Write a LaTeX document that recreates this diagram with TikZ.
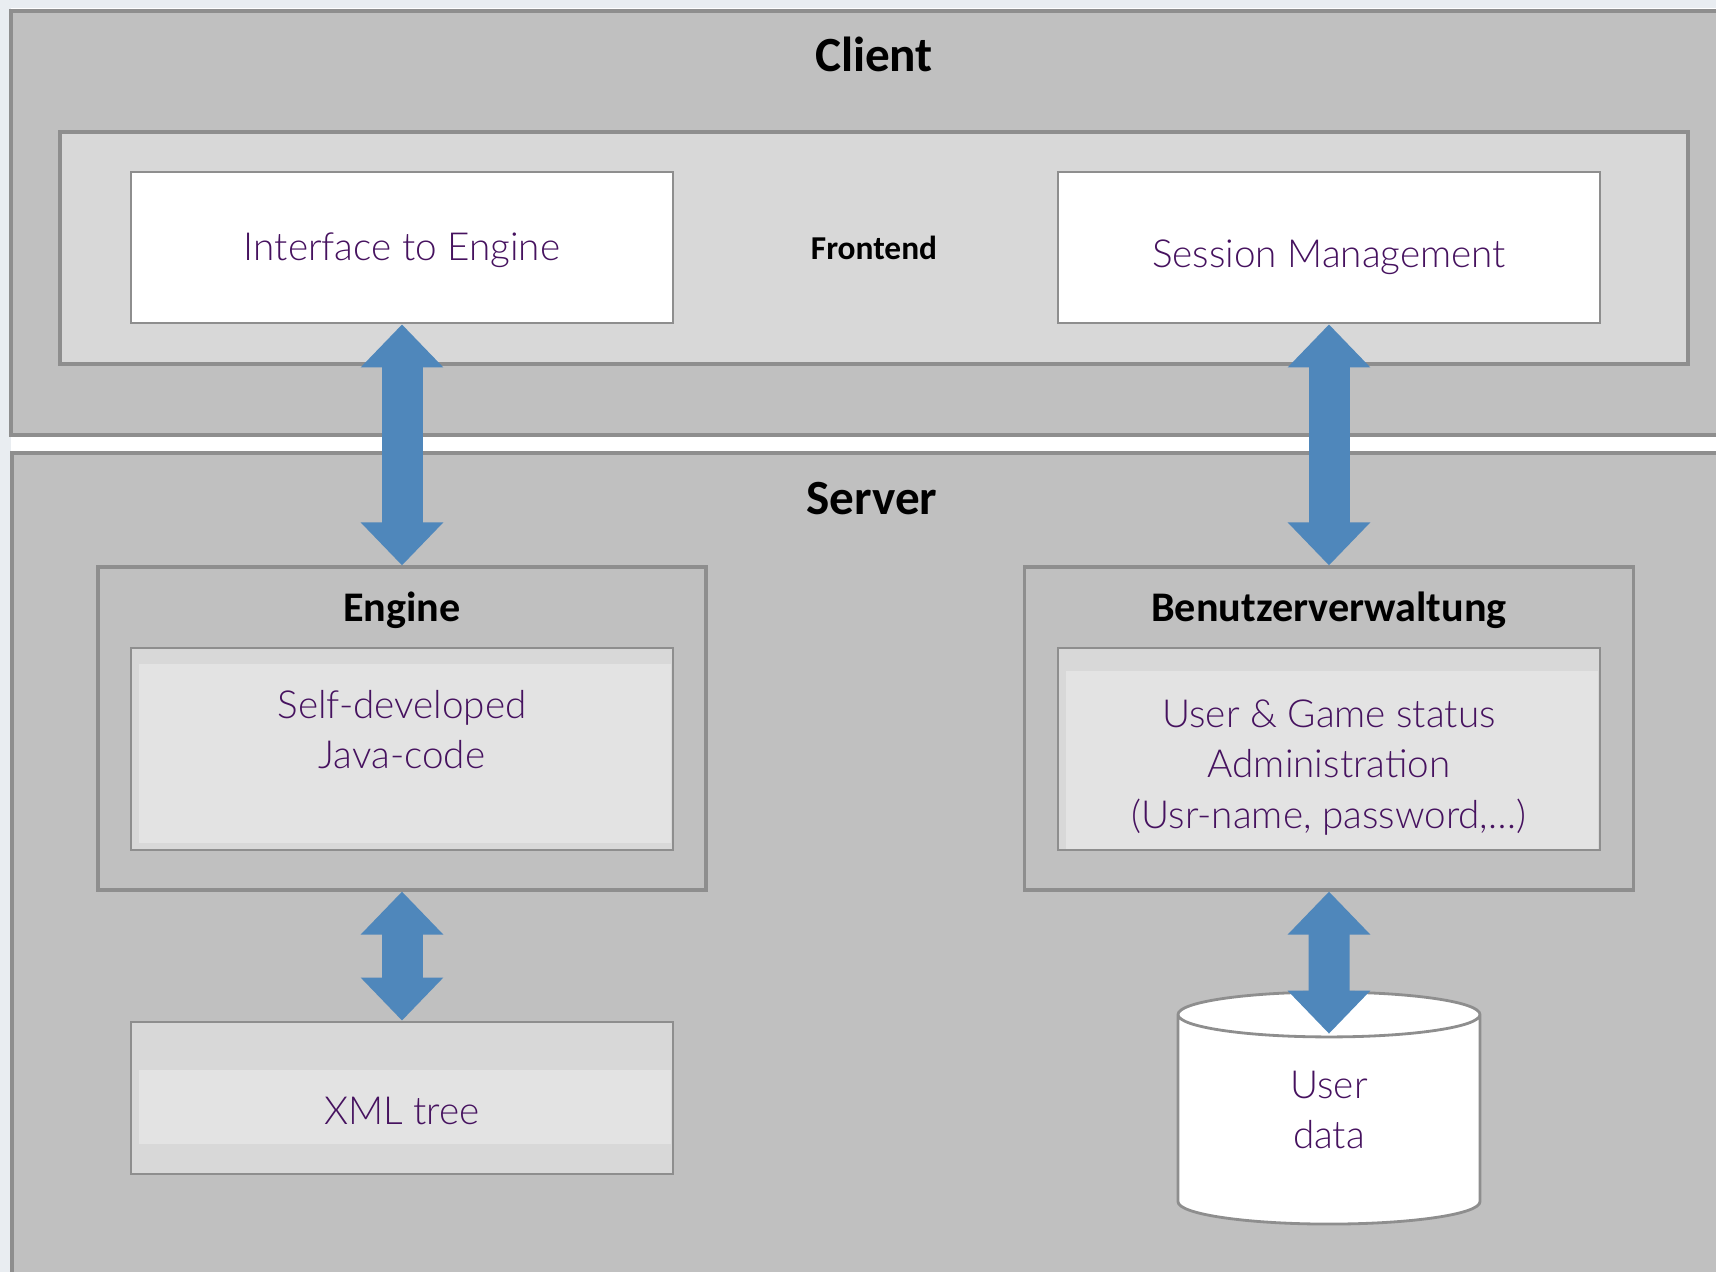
\documentclass[tikz,border=0pt]{standalone}
\usepackage{fontspec}
\newfontfamily\boxfont{Lato Light}
\newfontfamily\titlefont{Carlito}
\usepackage{xcolor}
\definecolor{pageTint}{HTML}{E9EDF1}
\definecolor{panelGray}{HTML}{C0C0C0}
\definecolor{groupGray}{HTML}{D8D8D8}
\definecolor{bandGray}{HTML}{E3E3E3}
\definecolor{edgeGray}{HTML}{8E8E8E}
\definecolor{linkBlue}{HTML}{4F87BB}
\definecolor{boxText}{HTML}{46125F}
\usetikzlibrary{
    shapes.geometric,
    arrows.meta,
    positioning,
    calc
}
\tikzset{
    % purple text inside the boxes
    base/.style={
        font={\boxfont\fontsize{11}{14.4}\selectfont},
        text=boxText,
        align=center,
        inner sep=0pt,
    },
    % client / server tiers
    panel/.style={
        rectangle,
        draw=edgeGray,
        line width=0.9pt,
        fill=panelGray,
    },
    % frontend strip
    group/.style={
        rectangle,
        draw=edgeGray,
        line width=0.9pt,
        fill=groupGray,
        font={\titlefont\bfseries\fontsize{9.5}{11}\selectfont},
    },
    % outline of a server component
    frame/.style={
        rectangle,
        draw=edgeGray,
        line width=0.9pt,
    },
    % white boxes in the frontend
    whitebox/.style={
        base,
        rectangle,
        draw=edgeGray,
        line width=0.8pt,
        fill=white,
    },
    % gray boxes with a lighter text band (top / bottom margin)
    codebox/.style 2 args={
        rectangle,
        draw=edgeGray,
        line width=0.8pt,
        fill=groupGray,
        path picture={
            \fill[bandGray]
                ([xshift=0.08cm, yshift=-#1]path picture bounding box.north west)
                rectangle
                ([xshift=-0.02cm, yshift=#2]path picture bounding box.south east);
        },
    },
    % user data store
    database/.style={
        base,
        cylinder,
        shape border rotate=90,
        aspect=0.58,
        draw=edgeGray,
        line width=0.8pt,
        fill=white,
        minimum width=3.02cm,
        minimum height=2.32cm,
    },
    % tier titles
    heading/.style={
        font={\titlefont\bfseries\fontsize{14}{16}\selectfont},
        text=black,
    },
    % component titles
    subheading/.style={
        font={\titlefont\bfseries\fontsize{12}{14}\selectfont},
        text=black,
    },
    % fat two-way arrows
    link/.style={
        {Triangle[length=4.3mm, width=8mm]}-{Triangle[length=4.3mm, width=8mm]},
        line width=4.1mm,
        draw=linkBlue,
    },
}

\begin{document}
\begin{tikzpicture}
    \useasboundingbox (0,0) rectangle (17.16,12.72);
    \fill[white] (0,0) rectangle (17.16,12.72);
    \fill[pageTint] (0,0) rectangle (0.11,12.72);
    \fill[pageTint] (0,12.64) rectangle (17.16,12.72);
    \clip (0,0) rectangle (17.16,12.72);

    % tiers
    \node (client) [panel, minimum width=17.3cm, minimum height=4.24cm] at (8.76,10.49) {};
    \node (server) [panel, minimum width=17.3cm, minimum height=8.5cm] at (8.77,3.94) {};
    \node (clientlbl) [heading] at (8.74,12.18) {Client};
    \node (serverlbl) [heading] at (8.72,7.73) {Server};

    % frontend
    \node (frontend) [group, minimum width=16.28cm, minimum height=2.32cm] at (8.74,10.24) {Frontend};
    \node (iface) [whitebox, minimum width=5.42cm, minimum height=1.51cm, text height=0.34cm, text depth=0.07cm] at (4.02,10.245) {Interface to Engine};
    \node (session) [whitebox, minimum width=5.42cm, minimum height=1.51cm, text height=0.48cm, text depth=0.07cm] at (13.29,10.245) {Session Management};

    % engine
    \node (engine) [frame, minimum width=6.08cm, minimum height=3.23cm] at (4.02,5.435) {};
    \node (enginelbl) [subheading] at ([yshift=-4.45mm]engine.north) {Engine};
    \node (selfdev) [codebox={0.16cm}{0.07cm}, minimum width=5.42cm, minimum height=2.02cm] at (4.02,5.23) {};
    \node (selfdevtxt) [base] at ([yshift=1.95mm]selfdev.center) {Self-developed\\Java-code};
    \node (xmltree) [codebox={0.48cm}{0.30cm}, minimum width=5.42cm, minimum height=1.52cm] at (4.02,1.74) {};
    \node (xmltreetxt) [base] at ([yshift=-1.3mm]xmltree.center) {XML tree};

    % user administration
    \node (benutzer) [frame, minimum width=6.09cm, minimum height=3.23cm] at (13.29,5.435) {};
    \node (benutzerlbl) [subheading] at ([yshift=-4.45mm]benutzer.north) {Benutzerverwaltung};
    \node (usergame) [codebox={0.23cm}{0cm}, minimum width=5.42cm, minimum height=2.02cm] at (13.29,5.23) {};
    \node (usergametxt) [base] at ([yshift=-1.85mm]usergame.center) {User \& Game status\\Administration\\(Usr-name, password,…)};
    \node (userdata) [database, text height=0.88cm, text depth=0.3cm] at (13.29,1.52) {User\\data};
    \coordinate (dbtop) at ([yshift=-4.3mm]userdata.north);

    \draw [link] (iface) -- (engine);
    \draw [link] (session) -- (benutzer);
    \draw [link] (engine) -- (xmltree);
    \draw [link] (benutzer) -- (dbtop);
\end{tikzpicture}
\end{document}
